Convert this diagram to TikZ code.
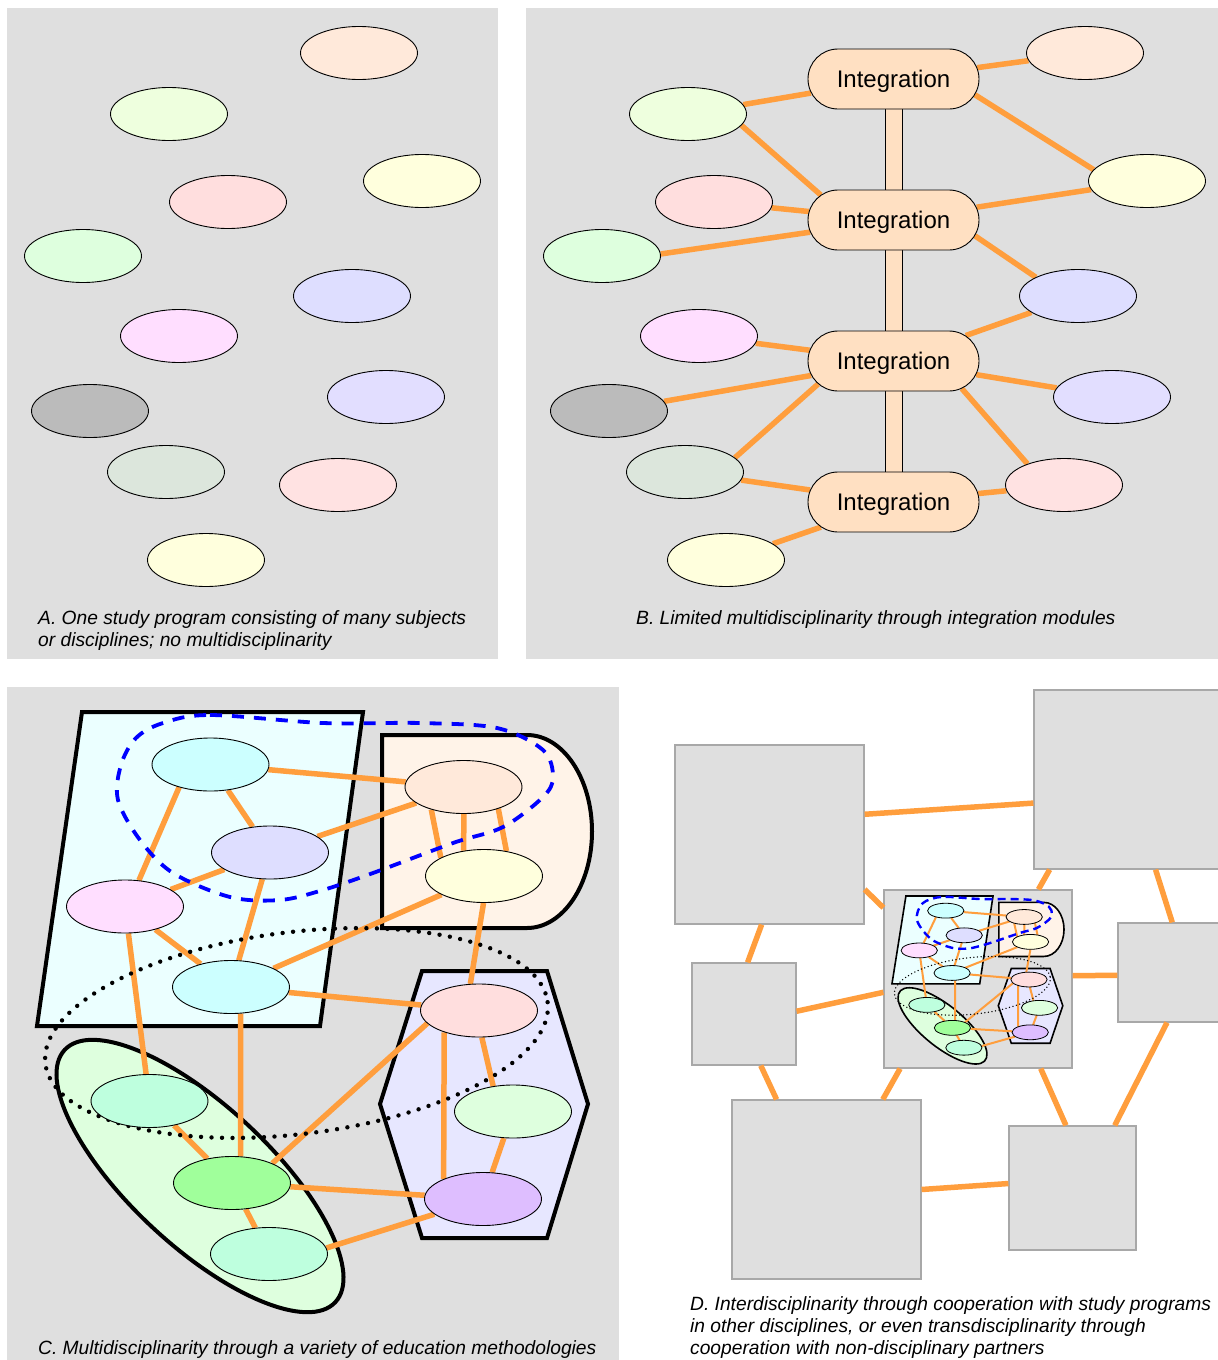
\documentclass[tikz,border=0pt]{standalone}
\usepackage{fontspec}
\setmainfont{Liberation Sans}
\usetikzlibrary{shapes.geometric,shapes.misc}

\definecolor{panelgray}{RGB}{223,223,223}
\definecolor{boxedge}{RGB}{168,168,168}
\definecolor{linkorange}{RGB}{255,158,61}
\definecolor{intfill}{RGB}{255,224,194}
% subjects
\definecolor{cPeach}{RGB}{255,233,218}
\definecolor{cLime}{RGB}{238,255,222}
\definecolor{cCream}{RGB}{255,255,221}
\definecolor{cRose}{RGB}{255,222,222}
\definecolor{cMint}{RGB}{222,255,222}
\definecolor{cLav}{RGB}{222,222,255}
\definecolor{cOrchid}{RGB}{255,222,255}
\definecolor{cGray}{RGB}{187,187,187}
\definecolor{cLavB}{RGB}{226,222,255}
\definecolor{cSage}{RGB}{220,230,220}
\definecolor{cRoseB}{RGB}{255,226,226}
\definecolor{cCyan}{RGB}{204,255,255}
\definecolor{cPurple}{RGB}{222,190,255}
\definecolor{cSea}{RGB}{190,255,222}
\definecolor{cGreen}{RGB}{160,255,155}
% regions
\definecolor{rCyan}{RGB}{235,255,255}
\definecolor{rPeach}{RGB}{255,243,232}
\definecolor{rLav}{RGB}{231,231,255}
\definecolor{rGreen}{RGB}{222,255,222}

\pgfdeclarelayer{back}
\pgfdeclarelayer{edges}
\pgfsetlayers{back,edges,main}

\tikzset{
  subj/.style={ellipse, draw, line width=0.9pt, minimum width=117pt, minimum height=53pt, inner sep=0pt},
  intmod/.style={rounded rectangle, draw, line width=0.9pt, fill=intfill, minimum width=171pt, minimum height=60pt, inner sep=0pt, text depth=0pt, font=\fontsize{24}{28}\selectfont},
  bar/.style={draw, line width=0.8pt, fill=intfill},
  link/.style={draw=linkorange, line width=5.5pt},
  region/.style={draw, line width=4pt},
  blueloop/.style={draw=blue, line width=3.8pt, dash pattern=on 12pt off 10pt},
  dotloop/.style={draw, line width=4.4pt, line cap=round, dash pattern=on 0pt off 10.5pt},
  pbox/.style={draw=boxedge, line width=1.2pt, fill=panelgray, inner sep=0pt},
  caption/.style={inner sep=0pt, align=left, font=\fontsize{19.2}{22}\selectfont\itshape},
  mini/.style={link/.append style={line width=2pt}, region/.append style={line width=1.6pt},
    blueloop/.append style={line width=2.4pt, dash pattern=on 8pt off 5pt},
    dotloop/.append style={line width=1.5pt, dash pattern=on 0pt off 3.6pt},
    subj/.append style={line width=0.8pt}},
}

% panel C, drawn full size and again as a small copy in panel D
\newcommand{\methodpanel}{%
  % regions
  \begin{pgfonlayer}{back}
    \draw[region, fill=rCyan] (82,712) -- (363,712) -- (320,1026) -- (37,1026) -- cycle;
    \draw[region, fill=rPeach] (382,735) -- (527,735)
      arc[start angle=-90, end angle=90, x radius=65, y radius=96.5] -- (382,928) -- cycle;
    \draw[region, fill=rLav] (422,971) -- (547,971) -- (588,1104) -- (547,1238) -- (422,1238) -- (380,1104) -- cycle;
    \draw[region, fill=rGreen, rotate around={-43:(200,1176)}] (200,1176) ellipse [x radius=185, y radius=70];
  \end{pgfonlayer}
  % groupings
  \draw[blueloop] plot[smooth cycle, tension=0.55] coordinates {(163,723) (210,715) (323,723) (420,723)
    (497,728) (543,750) (553,777) (543,797) (503,827) (453,843) (373,873) (323,890) (280,900)
    (230,897) (173,873) (140,840) (118,800) (121,765) (136,738)};
  \draw[dotloop, rotate around={7:(296.5,1033)}] (296.5,1033) ellipse [x radius=253, y radius=101];
  % subjects
  \node[subj, fill=cCyan]   (cyan1)  at (210.5,764.5) {};
  \node[subj, fill=cPeach]  (peach)  at (463.5,787) {};
  \node[subj, fill=cLav]    (lav)    at (270,852.5) {};
  \node[subj, fill=cCream]  (cream)  at (484,876) {};
  \node[subj, fill=cOrchid] (orchid) at (125,906.5) {};
  \node[subj, fill=cCyan]   (cyan2)  at (231,987) {};
  \node[subj, fill=cRose]   (rose)   at (479,1010.5) {};
  \node[subj, fill=cSea]    (sea1)   at (149.5,1101) {};
  \node[subj, fill=cMint]   (mint)   at (513,1111.5) {};
  \node[subj, fill=cGreen]  (green)  at (232,1183) {};
  \node[subj, fill=cPurple] (purple) at (483,1199) {};
  \node[subj, fill=cSea]    (sea2)   at (269,1254) {};
  % links
  \begin{pgfonlayer}{edges}
    \draw[link] (cyan1) -- (peach);
    \draw[link] (cyan1) -- (lav);
    \draw[link] (cyan1.-144) -- (orchid.62);
    \draw[link] (lav) -- (peach);
    \draw[link] (lav) -- (orchid);
    \draw[link] (lav) -- (cyan2);
    \draw[link] (peach.-145) -- (cream.157);
    \draw[link] (peach.-89) -- (cream.129);
    \draw[link] (peach.-32) -- (cream.48);
    \draw[link] (orchid) -- (cyan2);
    \draw[link] (orchid) -- (sea1);
    \draw[link] (cream) -- (cyan2);
    \draw[link] (cream.-91) -- (rose.108);
    \draw[link] (cyan2) -- (rose);
    \draw[link] (cyan2.-70) -- (green.72);
    \draw[link] (rose.-166) -- (green.26);
    \draw[link] (rose.-148) -- (purple.153);
    \draw[link] (rose.-84) -- (mint.128);
    \draw[link] (mint) -- (purple);
    \draw[link] (sea1) -- (green);
    \draw[link] (green) -- (purple);
    \draw[link] (green) -- (sea2);
    \draw[link] (sea2.6) -- (purple);
  \end{pgfonlayer}
}

\begin{document}
\begin{tikzpicture}[x=1pt, y=-1pt]
    \useasboundingbox (0,0) rectangle (1218,1360);

    % Panels
    \begin{pgfonlayer}{back}
        \fill[white] (0,0) rectangle (1218,1360);
        \fill[panelgray] (7,8) rectangle (498,659);
        \fill[panelgray] (526,8) rectangle (1218,659);
        \fill[panelgray] (7,687) rectangle (619,1360);
    \end{pgfonlayer}

    % A: separate subjects
    \foreach \x/\y/\c [count=\i] in {359/53/cPeach, 169/114/cLime, 422/181/cCream, 228/202/cRose,
        83/256/cMint, 352/296/cLav, 179/336/cOrchid, 90/411/cGray, 386/397/cLavB,
        166/472/cSage, 338/485/cRoseB, 206/560/cCream}
        \node[subj, fill=\c] (a\i) at (\x,\y) {};
    \node[caption, anchor=north west] (capa) at (38,610)
        {A. One study program consisting of many subjects\\or disciplines; no multidisciplinarity};

    % B: integration modules
    \begin{scope}[name prefix=b-]
        \node[subj, fill=cPeach]  (peach)  at (1085,53) {};
        \node[subj, fill=cLime]   (lime)   at (688,114) {};
        \node[subj, fill=cCream]  (cream)  at (1147,181) {};
        \node[subj, fill=cRose]   (rose)   at (714,202) {};
        \node[subj, fill=cMint]   (mint)   at (602,256) {};
        \node[subj, fill=cLav]    (lav)    at (1078,296) {};
        \node[subj, fill=cOrchid] (orchid) at (699,336) {};
        \node[subj, fill=cGray]   (gray)   at (609,411) {};
        \node[subj, fill=cLavB]   (lavb)   at (1112,397) {};
        \node[subj, fill=cSage]   (sage)   at (685,472) {};
        \node[subj, fill=cRoseB]  (roseb)  at (1064,485) {};
        \node[subj, fill=cCream]  (creamb) at (726,560) {};
        \node[intmod] (int1) at (893.5,79) {Integration};
        \node[intmod] (int2) at (893.5,220) {Integration};
        \node[intmod] (int3) at (893.5,361) {Integration};
        \node[intmod] (int4) at (893.5,502) {Integration};
        \begin{pgfonlayer}{edges}
            \foreach \u/\v in {int1/int2, int2/int3, int3/int4}
                \draw[bar] ([xshift=-8.5pt]\u.center) rectangle ([xshift=8.5pt]\v.center);
            \draw[link] (int1) -- (peach);
            \draw[link] (int1.-11) -- (cream.168);
            \draw[link] (lime) -- (int1);
            \draw[link] (lime.-12) -- (int2.161);
            \draw[link] (rose) -- (int2);
            \draw[link] (mint.2) -- (int2);
            \draw[link] (int2) -- (cream);
            \draw[link] (int2.-11) -- (lav.156);
            \draw[link] (orchid) -- (int3);
            \draw[link] (gray) -- (int3);
            \draw[link] (sage.16) -- (int3.-163);
            \draw[link] (int3) -- (lav);
            \draw[link] (int3) -- (lavb);
            \draw[link] (int3.-22) -- (roseb.150);
            \draw[link] (sage) -- (int4);
            \draw[link] (int4) -- (roseb);
            \draw[link] (creamb) -- (int4);
        \end{pgfonlayer}
    \end{scope}
    \node[caption, anchor=base west] (capb) at (636,624)
        {B. Limited multidisciplinarity through integration modules};

    % C: education methodologies
    \begin{scope}[name prefix=c-]
        \methodpanel
    \end{scope}
    \node[caption, anchor=base west] (capc) at (38,1354)
        {C. Multidisciplinarity through a variety of education methodologies};

    % D: cooperating study programs
    \begin{pgfonlayer}{back}
        \node[pbox, minimum width=189pt, minimum height=179pt] (s1) at (769.5,834.5) {};
        \node[pbox, minimum width=188pt, minimum height=179pt] (s2) at (1128,779.5) {};
        \node[pbox, minimum width=104pt, minimum height=102pt] (s3) at (744,1014) {};
        \node[pbox, minimum width=188pt, minimum height=178pt] (s4) at (978,979) {};
        \node[pbox, minimum width=105pt, minimum height=99pt]  (s5) at (1170.5,972.5) {};
        \node[pbox, minimum width=189pt, minimum height=179pt] (s6) at (826.5,1189.5) {};
        \node[pbox, minimum width=127pt, minimum height=124pt] (s7) at (1072.5,1188) {};
        \draw[link] (s1.12) -- (s2.194);
        \draw[link] (s1.-30) -- (s4.143);
        \draw[link] (s2.-131) -- (s4.56);
        \draw[link] (s2.-73) -- (s5.88);
        \draw[link] (s1.-95) -- (s3.86);
        \draw[link] (s3.3) -- (s4.188);
        \draw[link] (s4.2) -- (s5.183);
        \draw[link] (s3.-72) -- (s6.119);
        \draw[link] (s4.-131) -- (s6.58);
        \draw[link] (s4.-55) -- (s7.96);
        \draw[link] (s6.0) -- (s7.176);
        \draw[link] (s5.-94) -- (s7.56);
    \end{pgfonlayer}
    \begin{scope}[shift={(880.5,696.6)}, xscale=0.31, yscale=0.28, transform shape, name prefix=m-, mini]
        \methodpanel
    \end{scope}
    \node[caption, anchor=north west] (capd) at (690,1296)
        {D. Interdisciplinarity through cooperation with study programs\\in other disciplines, or even transdisciplinarity through\\cooperation with non-disciplinary partners};
\end{tikzpicture}
\end{document}
